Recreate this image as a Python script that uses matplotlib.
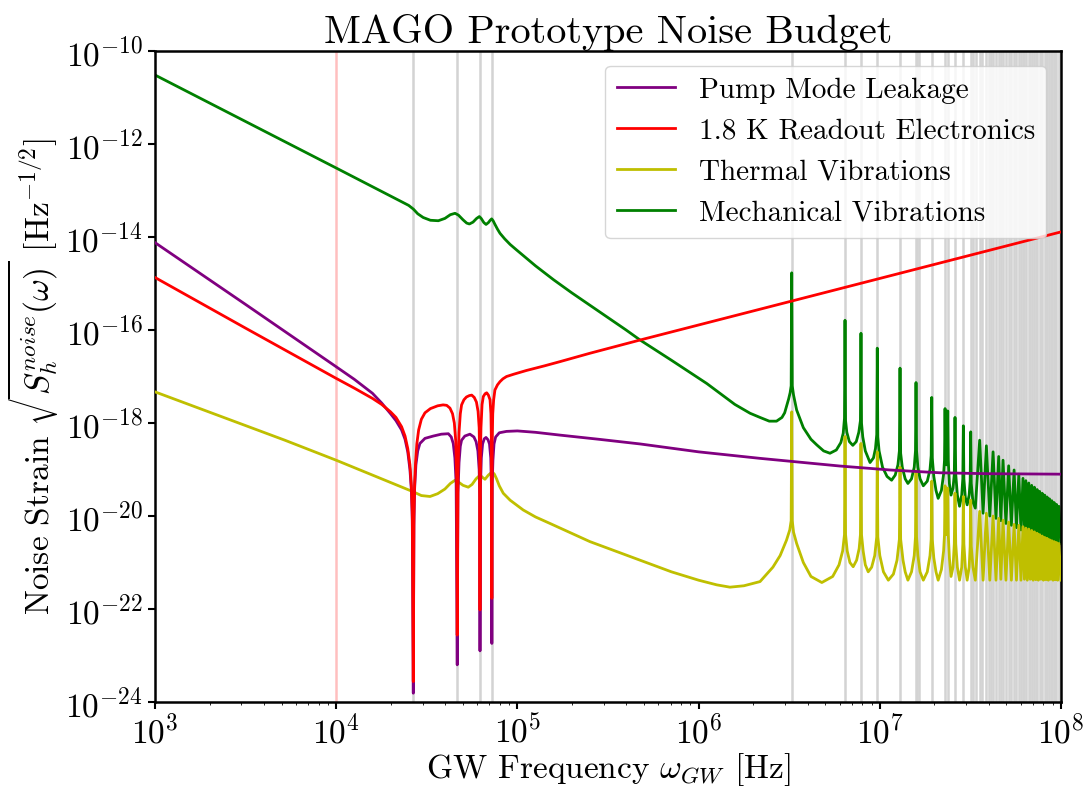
import matplotlib
matplotlib.use("Agg")
import matplotlib.pyplot as plt
import numpy as np
from matplotlib.ticker import NullLocator

plt.rcParams["font.family"] = "serif"
plt.rcParams["font.serif"] = ["cmr10"]
plt.rcParams["mathtext.fontset"] = "cm"
plt.rcParams["axes.formatter.use_mathtext"] = True

# all curves are (log10 frequency [Hz], log10 strain [Hz^-1/2]) pairs

# pump mode leakage
pump = [(3.0, -14.12), (3.5, -15.45), (4.0, -16.79), (4.1, -17.06), (4.2, -17.36),
        (4.251, -17.57), (4.30, -17.8), (4.33, -17.95), (4.361, -18.15), (4.38, -18.35),
        (4.395, -18.62), (4.407, -19.0), (4.415, -19.45), (4.42, -20.1), (4.4255, -23.81),
        (4.429, -20.2), (4.433, -19.4), (4.44, -18.9), (4.45, -18.6), (4.462, -18.44),
        (4.49, -18.33), (4.536, -18.28), (4.58, -18.24), (4.619, -18.23), (4.635, -18.3),
        (4.646, -18.44), (4.655, -18.75), (4.662, -19.3), (4.668, -23.2), (4.672, -19.5),
        (4.678, -18.85), (4.685, -18.5), (4.692, -18.37), (4.71, -18.28), (4.738, -18.24),
        (4.76, -18.3), (4.772, -18.4), (4.782, -18.6), (4.789, -19.0), (4.792, -19.6),
        (4.7936, -22.9), (4.796, -19.4), (4.801, -18.75), (4.808, -18.45), (4.817, -18.34),
        (4.8267, -18.31), (4.838, -18.36), (4.846, -18.45), (4.853, -18.75), (4.857, -19.4),
        (4.859, -22.74), (4.861, -19.3), (4.865, -18.8), (4.871, -18.45), (4.88, -18.3),
        (4.9, -18.21), (4.94, -18.18), (5.0, -18.17), (5.1, -18.2), (5.235, -18.26),
        (5.45, -18.35), (5.677, -18.45), (6.0, -18.62), (6.339, -18.76), (6.78, -18.925),
        (7.056, -19.01), (7.33, -19.07), (7.6, -19.09), (8.0, -19.1)]

# 1.8 K readout electronics
readout = [(3.0, -14.87), (3.5, -15.96), (4.0, -17.04), (4.1, -17.25), (4.2, -17.47),
           (4.251, -17.6), (4.30, -17.76), (4.33, -17.88), (4.361, -18.08), (4.38, -18.28),
           (4.395, -18.55), (4.407, -18.9), (4.415, -19.35), (4.42, -19.9), (4.4255, -23.56),
           (4.429, -20.0), (4.433, -19.3), (4.438, -18.85), (4.445, -18.45), (4.455, -18.15),
           (4.47, -17.92), (4.49, -17.78), (4.52, -17.69), (4.56, -17.63), (4.59, -17.61),
           (4.61, -17.62), (4.628, -17.68), (4.642, -17.8), (4.652, -18.0), (4.66, -18.4),
           (4.665, -19.2), (4.668, -22.56), (4.672, -19.1), (4.678, -18.2), (4.685, -17.8),
           (4.692, -17.61), (4.705, -17.5), (4.719, -17.44), (4.735, -17.41), (4.748, -17.40),
           (4.762, -17.45), (4.774, -17.55), (4.783, -17.75), (4.789, -18.1), (4.792, -18.8),
           (4.7936, -22.02), (4.7955, -18.8), (4.799, -18.1), (4.805, -17.6), (4.812, -17.43),
           (4.822, -17.37), (4.8306, -17.35), (4.84, -17.4), (4.849, -17.5), (4.854, -17.8),
           (4.857, -18.5), (4.859, -21.77), (4.861, -18.4), (4.864, -17.8), (4.869, -17.5),
           (4.876, -17.29), (4.89, -17.18), (4.904, -17.11), (4.92, -17.05), (4.94, -17.0),
           (4.98, -16.95), (5.05, -16.87), (5.15, -16.77), (5.235, -16.68), (5.4, -16.5),
           (5.677, -16.215), (8.0, -13.89)]

# thermal vibrations below the dense part of the mode comb
thermal = [(3.0, -17.33), (3.717, -18.37), (4.0, -18.8), (4.2, -19.12), (4.35, -19.36),
           (4.426, -19.48), (4.47, -19.56), (4.518, -19.58), (4.56, -19.52), (4.60, -19.42),
           (4.63, -19.3), (4.656, -19.23), (4.675, -19.27), (4.70, -19.34), (4.729, -19.38),
           (4.75, -19.32), (4.772, -19.2), (4.794, -19.12), (4.808, -19.17), (4.821, -19.21),
           (4.84, -19.12), (4.861, -19.05), (4.873, -19.1), (4.885, -19.2), (4.9, -19.35),
           (4.922, -19.51), (4.96, -19.66), (5.032, -19.87), (5.1, -20.02), (5.18, -20.16),
           (5.4, -20.55), (5.677, -20.95), (5.85, -21.2), (6.0, -21.38), (6.1, -21.48),
           (6.173, -21.53), (6.25, -21.5), (6.339, -21.41), (6.41, -21.1), (6.45, -20.85),
           (6.485, -20.52), (6.503, -20.3), (6.5108, -20.1), (6.5138, -17.76), (6.5168, -20.1),
           (6.524, -20.35), (6.541, -20.59), (6.578, -21.0), (6.62, -21.3), (6.68, -21.43),
           (6.74, -21.3), (6.775, -21.05), (6.795, -20.75), (6.805, -20.4), (6.808, -18.29),
           (6.811, -20.4), (6.82, -20.75), (6.835, -21.0), (6.853, -21.09), (6.872, -20.95),
           (6.886, -20.7), (6.893, -20.4), (6.896, -18.44), (6.899, -20.4), (6.908, -20.75),
           (6.92, -21.05), (6.936, -21.2), (6.955, -21.1), (6.972, -20.85), (6.983, -20.45),
           (6.986, -18.62), (6.989, -20.45), (7.0, -20.85), (7.02, -21.2), (7.047, -21.38),
           (7.075, -21.25), (7.095, -20.95), (7.108, -20.5), (7.1115, -18.95), (7.115, -20.5),
           (7.128, -20.95), (7.14, -21.2), (7.155, -21.38), (7.175, -21.2), (7.19, -20.85),
           (7.1968, -20.45), (7.1998, -19.03), (7.2028, -20.45), (7.21, -20.85), (7.222, -21.2),
           (7.240, -21.38), (7.262, -21.2), (7.277, -20.85), (7.2835, -20.5), (7.2865, -19.25),
           (7.2895, -20.5), (7.298, -20.9), (7.31, -21.2), (7.322, -21.38), (7.34, -21.15),
           (7.352, -20.75), (7.357, -20.4), (7.360, -19.35), (7.363, -20.2), (7.367, -20.4),
           (7.3717, -20.2), (7.3747, -19.40), (7.3777, -20.4), (7.384, -20.9), (7.393, -21.3),
           (7.404, -21.1), (7.411, -20.6), (7.415, -19.51), (7.419, -20.6), (7.428, -21.1),
           (7.440, -21.38), (7.452, -21.1), (7.458, -20.6), (7.461, -19.58), (7.464, -20.6),
           (7.472, -21.1), (7.482, -21.38), (7.493, -21.1), (7.4986, -20.65), (7.5016, -19.66),
           (7.5046, -20.65), (7.514, -21.1), (7.527, -21.38)]

# mechanical vibrations below the dense part of the mode comb
mechanical = [(3.0, -10.516), (4.0, -12.516), (4.40, -13.32), (4.426, -13.40), (4.45, -13.5),
              (4.48, -13.58), (4.52, -13.64), (4.5636, -13.65), (4.6, -13.6), (4.63, -13.52),
              (4.656, -13.49), (4.675, -13.53), (4.70, -13.63), (4.72, -13.7), (4.735, -13.72),
              (4.755, -13.68), (4.775, -13.6), (4.79, -13.56), (4.80, -13.6), (4.815, -13.69),
              (4.827, -13.73), (4.84, -13.69), (4.85, -13.64), (4.858, -13.61), (4.866, -13.65),
              (4.875, -13.72), (4.89, -13.83), (4.904, -13.92), (4.93, -14.04), (4.96, -14.16),
              (4.996, -14.28), (5.1, -14.62), (5.2, -14.92), (5.3, -15.2), (5.45, -15.6),
              (5.6, -16.0), (5.677, -16.215), (5.85, -16.65), (6.045, -17.15), (6.2, -17.6),
              (6.284, -17.79), (6.339, -17.88), (6.39, -17.96), (6.43, -17.96), (6.46, -17.88),
              (6.475, -17.78), (6.487, -17.62), (6.497, -17.48), (6.505, -17.35), (6.5108, -17.2),
              (6.5138, -14.77), (6.5168, -17.2), (6.524, -17.4), (6.541, -17.72), (6.578, -18.1),
              (6.62, -18.35), (6.652, -18.47), (6.69, -18.6), (6.725, -18.65), (6.76, -18.58),
              (6.785, -18.42), (6.798, -18.22), (6.805, -17.9), (6.808, -15.79), (6.811, -17.95),
              (6.818, -18.2), (6.832, -18.4), (6.851, -18.48), (6.87, -18.4), (6.884, -18.2),
              (6.893, -17.95), (6.896, -16.07), (6.899, -18.0), (6.906, -18.3), (6.92, -18.6),
              (6.946, -18.85), (6.965, -18.75), (6.976, -18.55), (6.983, -18.25), (6.986, -16.39),
              (6.989, -18.3), (6.996, -18.6), (7.015, -18.95), (7.04, -19.15), (7.065, -19.23),
              (7.085, -19.12), (7.1, -18.9), (7.108, -18.6), (7.1115, -16.82), (7.115, -18.65),
              (7.124, -18.95), (7.14, -19.2), (7.155, -19.30), (7.175, -19.2), (7.19, -18.95),
              (7.1968, -18.6), (7.1998, -17.13), (7.2028, -18.6), (7.21, -18.95), (7.222, -19.2),
              (7.240, -19.35), (7.262, -19.25), (7.277, -19.0), (7.2835, -18.7), (7.2865, -17.45),
              (7.2895, -18.75), (7.298, -19.15), (7.31, -19.45), (7.322, -19.62), (7.34, -19.45),
              (7.352, -19.1), (7.357, -18.8), (7.360, -17.69), (7.363, -18.7), (7.367, -18.9),
              (7.3717, -18.75), (7.3747, -17.74), (7.3777, -18.8), (7.384, -19.3), (7.393, -19.55),
              (7.404, -19.4), (7.411, -19.1), (7.415, -17.88), (7.419, -19.1), (7.428, -19.55),
              (7.440, -19.79), (7.452, -19.55), (7.458, -19.2), (7.461, -18.06), (7.464, -19.2),
              (7.472, -19.6), (7.482, -19.76), (7.493, -19.55), (7.4986, -19.25), (7.5016, -18.19),
              (7.5046, -19.3), (7.514, -19.7), (7.527, -19.83)]

# dense mode comb above 3.5e7 Hz: resonance peaks and the troughs that follow them
comb_peak_logf = [7.551, 7.588, 7.625, 7.656, 7.680, 7.711, 7.741, 7.767, 7.790, 7.806,
                  7.822, 7.838, 7.853, 7.868, 7.882, 7.896, 7.910, 7.923, 7.936, 7.949,
                  7.962, 7.975, 7.988]
mech_peak = [-18.37, -18.49, -18.62, -18.72, -18.80, -18.92, -19.01, -19.10, -19.19, -19.24,
             -19.29, -19.34, -19.38, -19.43, -19.47, -19.51, -19.55, -19.59, -19.63, -19.67,
             -19.71, -19.75, -19.79]
therm_peak = [-19.90, -19.94, -20.00, -20.05, -20.09, -20.13, -20.18, -20.20, -20.23, -20.26,
              -20.28, -20.31, -20.34, -20.37, -20.40, -20.43, -20.46, -20.48, -20.51, -20.53,
              -20.55, -20.57, -20.59]
comb_trough_logf = [7.570, 7.607, 7.641, 7.668, 7.696, 7.726, 7.754, 7.779, 7.798, 7.814,
                    7.830, 7.846, 7.861, 7.875, 7.889, 7.903, 7.917, 7.930, 7.943, 7.956,
                    7.969, 7.982, 8.0]
mech_trough = [-19.94, -20.00, -20.05, -20.10, -20.16, -20.20, -20.25, -20.30, -20.30, -20.33,
               -20.35, -20.38, -20.40, -20.42, -20.45, -20.47, -20.49, -20.51, -20.53, -20.55,
               -20.56, -20.58, -20.59]
therm_trough = [-21.38, -21.38, -21.38, -21.36, -21.38, -21.38, -21.38, -21.38, -21.36, -21.38,
                -21.36, -21.38, -21.37, -21.38, -21.36, -21.38, -21.37, -21.38, -21.36, -21.38,
                -21.37, -21.38, -21.38]

# cavity mode frequencies (log10 Hz)
mode_logf = [4.4255, 4.668, 4.7936, 4.859, 6.5138, 6.808, 6.896, 6.986, 7.1115, 7.1998,
             7.207, 7.218, 7.2865, 7.360, 7.3747, 7.415, 7.461, 7.5016, 7.515, 7.53, 7.565,
             7.6, 7.615, 7.64, 7.668, 7.695, 7.725, 7.752, 7.778, 7.798, 7.83, 7.86, 7.889,
             7.916, 7.943, 7.969, 7.995]

# pump mode frequency
pump_logf = 4.0


def with_comb(points, peaks, troughs):
    f = [p[0] for p in points]
    h = [p[1] for p in points]
    for pf, ph, tf, th in zip(comb_peak_logf, peaks, comb_trough_logf, troughs):
        f += [pf, tf]
        h += [ph, th]
    return 10.0 ** np.array(f), 10.0 ** np.array(h)


def as_arrays(points):
    arr = np.array(points)
    return 10.0 ** arr[:, 0], 10.0 ** arr[:, 1]


mech_f, mech_h = with_comb(mechanical, mech_peak, mech_trough)
therm_f, therm_h = with_comb(thermal, therm_peak, therm_trough)
pump_f, pump_h = as_arrays(pump)
read_f, read_h = as_arrays(readout)

fig = plt.figure(figsize=(10.86, 7.92), dpi=100)
ax = fig.add_axes([0.1427, 0.1136, 0.8343, 0.822])

for lf in mode_logf + comb_peak_logf:
    ax.axvline(10.0 ** lf, color="lightgrey", lw=1.8, zorder=1)
ax.axvline(10.0 ** pump_logf, color="red", alpha=0.25, lw=1.8, zorder=1)

l_mech, = ax.loglog(mech_f, mech_h, color="g", lw=2, zorder=2)
l_therm, = ax.loglog(therm_f, therm_h, color="y", lw=2, zorder=3)
l_pump, = ax.loglog(pump_f, pump_h, color="purple", lw=2, zorder=4)
l_read, = ax.loglog(read_f, read_h, color="r", lw=2, zorder=5)

ax.legend([l_pump, l_read, l_therm, l_mech],
          ["Pump Mode Leakage", "1.8 K Readout Electronics", "Thermal Vibrations",
           "Mechanical Vibrations"],
          loc="upper right", fontsize=21)

ax.set_xlim(1e3, 1e8)
ax.set_ylim(1e-24, 1e-10)
ax.set_yticks([10.0 ** e for e in range(-24, -9, 2)])
ax.yaxis.set_minor_locator(NullLocator())

ax.set_title("MAGO Prototype Noise Budget", fontsize=29, pad=6)
ax.set_xlabel(r"GW Frequency $\omega_{GW}$ [Hz]", fontsize=24, labelpad=2)
ax.set_ylabel(r"Noise Strain $\sqrt{S_h^{noise}(\omega)}$ [Hz$^{-1/2}$]", fontsize=24, labelpad=4)
ax.tick_params(labelsize=24, width=1.5)
ax.tick_params(which="major", length=5)
for sp in ax.spines.values():
    sp.set_linewidth(1.8)

fig.savefig("out.png", dpi=100)
